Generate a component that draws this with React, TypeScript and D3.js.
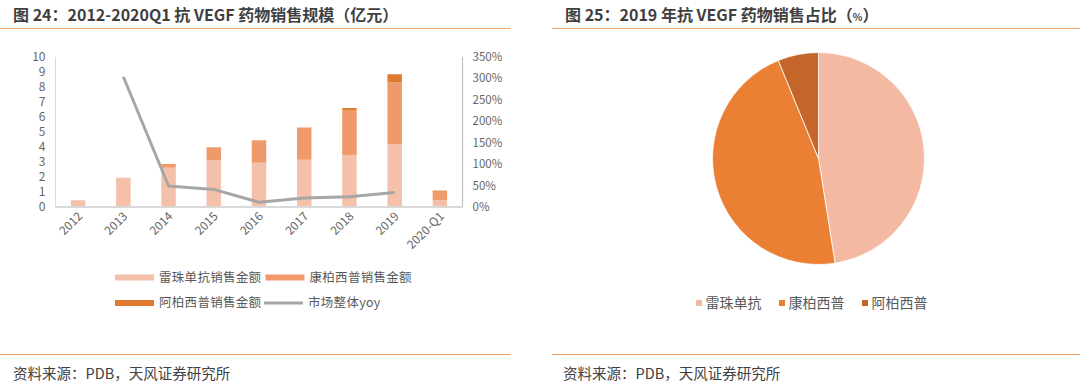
import React from "react";
import * as d3 from "d3";

// 图24 数据（亿元）
const years = ["2012", "2013", "2014", "2015", "2016", "2017", "2018", "2019", "2020-Q1"];
const ranibizumab = [0.45, 1.95, 2.62, 3.13, 2.95, 3.15, 3.47, 4.2, 0.47];
const conbercept = [0, 0, 0.25, 0.85, 1.5, 2.15, 3.0, 4.1, 0.55];
const aflibercept = [0, 0, 0, 0, 0, 0, 0.13, 0.55, 0.07];
const marketYoy: (number | null)[] = [null, 304, 49, 41, 11, 21, 24, 34, null];
const leftTicks = [0, 1, 2, 3, 4, 5, 6, 7, 8, 9, 10];
const rightTicks = [0, 50, 100, 150, 200, 250, 300, 350];

// 图25 数据（%）
const pieLabels = ["雷珠单抗", "康柏西普", "阿柏西普"];
const pieShares = [47.5, 46.3, 6.2];

const barColors = ["#F5C0AA", "#F09A6C", "#E07A30"];
const pieColors = ["#F3B9A3", "#EB7F34", "#C4662A"];
const lineColor = "#A6A6A6";
const accent = "#F0A566";
const font = "'Noto Sans CJK SC', 'Noto Sans', sans-serif";

const App = () => {
  const plot = { left: 55.5, right: 462.5, top: 57, bottom: 207 };

  const x = d3.scaleBand().domain(years).range([plot.left, plot.right]).paddingInner(0.68).paddingOuter(0.34);
  const y = d3.scaleLinear().domain([0, 10]).range([plot.bottom, plot.top]);
  const y2 = d3.scaleLinear().domain([0, 350]).range([plot.bottom, plot.top]);

  const stackRows = years.map((yr, i) => ({
    year: yr,
    ranibizumab: ranibizumab[i],
    conbercept: conbercept[i],
    aflibercept: aflibercept[i],
  }));
  const series = d3.stack<any>().keys(["ranibizumab", "conbercept", "aflibercept"])(stackRows);

  const yoyPoints = years
    .map((yr, i) => ({ yr, v: marketYoy[i] }))
    .filter((d) => d.v !== null) as { yr: string; v: number }[];
  const line = d3
    .line<{ yr: string; v: number }>()
    .x((d) => (x(d.yr) as number) + x.bandwidth() / 2)
    .y((d) => y2(d.v));

  const pie = d3.pie<number>().sort(null).value((d) => d)(pieShares);
  const arc = d3.arc<d3.PieArcDatum<number>>().innerRadius(0).outerRadius(106);

  const leftLegend = [
    { label: "雷珠单抗销售金额", color: barColors[0], x: 115, y: 277.5, h: 6 },
    { label: "康柏西普销售金额", color: barColors[1], x: 265.5, y: 277.5, h: 6 },
    { label: "阿柏西普销售金额", color: barColors[2], x: 115, y: 303, h: 6 },
    { label: "市场整体yoy", color: lineColor, x: 264, y: 303, h: 3 },
  ];
  const rightLegendX = [696, 779, 862];

  return (
    <svg
      width={1080}
      height={384}
      style={{ position: "absolute", left: 0, top: 0, background: "#fff" }}
      fontFamily={font}
    >
      {/* 左图标题 */}
      <text x={13} y={20.5} fontSize={16} fontWeight="bold" fill="#3f3f3f">
        图 24：2012-2020Q1 抗 VEGF 药物销售规模（亿元）
      </text>
      <line x1={0} x2={511} y1={28.5} y2={28.5} stroke={accent} strokeWidth={1.2} />

      {/* 坐标轴 */}
      <line x1={plot.left} x2={plot.left} y1={plot.top} y2={plot.bottom} stroke="#d9d9d9" />
      <line x1={plot.right} x2={plot.right} y1={plot.top} y2={plot.bottom} stroke="#bfbfbf" strokeWidth={1.2} />
      {leftTicks.map((t) => (
        <text key={t} x={45.5} y={y(t)} dy="0.35em" textAnchor="end" fontSize={12} fill="#666">
          {t}
        </text>
      ))}
      {rightTicks.map((t) => (
        <text key={t} x={472.5} y={y2(t)} dy="0.35em" fontSize={11.5} fill="#666">
          {t}%
        </text>
      ))}

      {/* 堆叠柱 */}
      {series.map((s, si) => (
        <g key={s.key} fill={barColors[si]}>
          {s.map((d, i) =>
            d[1] - d[0] > 0 ? (
              <rect
                key={i}
                x={x(years[i])}
                width={x.bandwidth()}
                y={y(d[1])}
                height={y(d[0]) - y(d[1])}
              />
            ) : null
          )}
        </g>
      ))}
      <line x1={plot.left} x2={plot.right} y1={plot.bottom} y2={plot.bottom} stroke="#d9d9d9" strokeWidth={2} />

      {/* yoy 折线 */}
      <path d={line(yoyPoints) || ""} fill="none" stroke={lineColor} strokeWidth={3} strokeLinejoin="round" />

      {/* x 轴标签 */}
      {years.map((yr) => {
        const cx = (x(yr) as number) + x.bandwidth() / 2 + 5;
        const cy = 217;
        return (
          <text
            key={yr}
            x={cx}
            y={cy}
            textAnchor="end"
            fontSize={12}
            fill="#666"
            transform={`rotate(-45, ${cx}, ${cy})`}
          >
            {yr}
          </text>
        );
      })}

      {/* 左图图例 */}
      {leftLegend.map((l) => (
        <g key={l.label}>
          <rect x={l.x} y={l.y - l.h / 2} width={39} height={l.h} fill={l.color} />
          <text x={l.x + 44} y={l.y} dy="0.35em" fontSize={12.5} fill="#595959" letterSpacing={0.3}>
            {l.label}
          </text>
        </g>
      ))}

      <line x1={0} x2={511} y1={354.5} y2={354.5} stroke={accent} strokeWidth={1.2} />
      <text x={13} y={374} dy="0.35em" fontSize={14.5} fill="#404040">
        资料来源：PDB，天风证券研究所
      </text>

      {/* 右图 */}
      <text x={565} y={20.5} fontSize={16} fontWeight="bold" fill="#3f3f3f">
        图 25：2019 年抗 VEGF 药物销售占比（<tspan fontSize={10}>%</tspan>）
      </text>
      <line x1={552} x2={1080} y1={28.5} y2={28.5} stroke={accent} strokeWidth={1.2} />

      <g transform="translate(818.5,158.5)">
        {pie.map((p, i) => (
          <path key={i} d={arc(p) || ""} fill={pieColors[i]} stroke="#fff" strokeWidth={0.8} />
        ))}
      </g>

      {pieLabels.map((lb, i) => (
        <g key={lb}>
          <rect x={rightLegendX[i]} y={300} width={6} height={6} fill={pieColors[i]} />
          <text x={rightLegendX[i] + 9.5} y={303.3} dy="0.35em" fontSize={14} fill="#595959">
            {lb}
          </text>
        </g>
      ))}

      <line x1={552} x2={1080} y1={354.5} y2={354.5} stroke={accent} strokeWidth={1.2} />
      <text x={563} y={374} dy="0.35em" fontSize={14.5} fill="#404040">
        资料来源：PDB，天风证券研究所
      </text>
    </svg>
  );
};

export default App;
